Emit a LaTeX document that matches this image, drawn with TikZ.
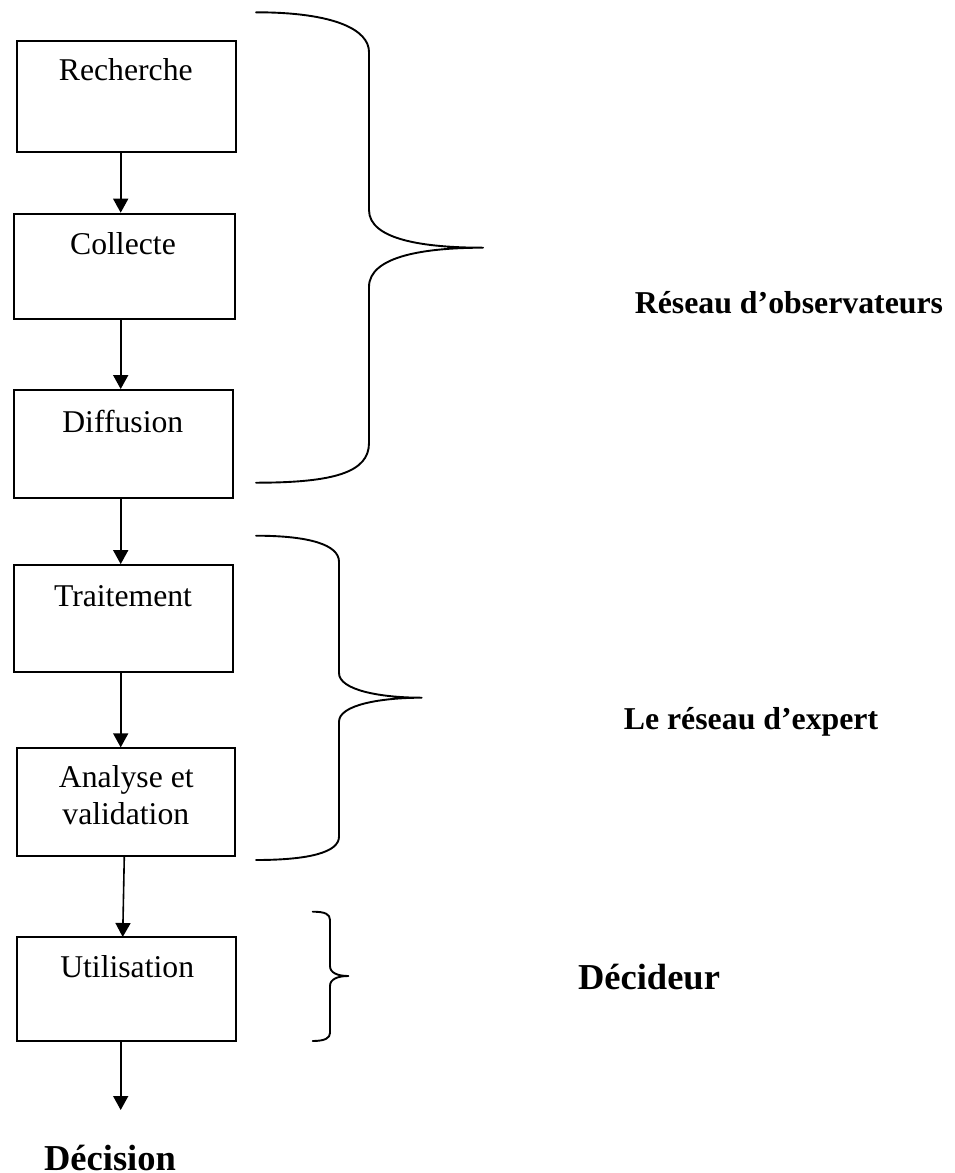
\documentclass[tikz,border=0pt]{standalone}
\usepackage{fontspec}
\setmainfont{Liberation Serif}
\usetikzlibrary{arrows.meta}
\begin{document}
\begin{tikzpicture}[x=1pt,y=-1pt,
  stagebox/.style={draw,line width=1.9pt,inner sep=0pt},
  stagetext/.style={anchor=base,inner sep=0pt,font=\fontsize{31.7}{37}\selectfont},
  grouptext/.style={anchor=base,inner sep=0pt,font=\fontsize{31.8}{37}\selectfont\bfseries},
  bigtext/.style={anchor=base,inner sep=0pt,font=\fontsize{36.5}{42}\selectfont\bfseries},
  flow/.style={line width=1.6pt,-{Triangle[width=15pt,length=14pt]}},
  brace/.style={line width=1.9pt,line cap=round,line join=round}]
\useasboundingbox (0,0) rectangle (955,1173);

% stages of the chain
\node[stagebox,minimum width=219pt,minimum height=111pt] (rech) at (126.2,96.5) {};
\node[stagetext] (rechT) at (125.8,80.7) {Recherche};
\node[stagebox,minimum width=221.3pt,minimum height=105.3pt] (coll) at (124.3,266.3) {};
\node[stagetext] (collT) at (123,254) {Collecte};
\node[stagebox,minimum width=218.7pt,minimum height=108pt] (diff) at (123.3,444) {};
\node[stagetext] (diffT) at (122.8,432) {Diffusion};
\node[stagebox,minimum width=218.7pt,minimum height=107.3pt] (trait) at (123.3,618.7) {};
\node[stagetext] (traitT) at (123,606) {Traitement};
\node[stagebox,minimum width=218.3pt,minimum height=107.4pt] (anal) at (125.8,802) {};
\node[stagetext] (analT1) at (126.3,787.3) {Analyse et};
\node[stagetext] (analT2) at (125.8,824) {validation};
\node[stagebox,minimum width=218.7pt,minimum height=104pt] (util) at (126.7,989) {};
\node[stagetext] (utilT) at (127.2,977.3) {Utilisation};

\node[bigtext] (dec) at (110,1170.7) {Décision};

% arrows between stages
\coordinate (ax) at (120.7,0);
\coordinate (decin) at (120.7,1110);
\draw[flow] (rech.south -| ax) -- (coll.north -| ax);
\draw[flow] (coll.south -| ax) -- (diff.north -| ax);
\draw[flow] (diff.south -| ax) -- (trait.north -| ax);
\draw[flow] (trait.south -| ax) -- (anal.north -| ax);
\coordinate (aout) at (124.3,855.7);
\coordinate (uin) at (122.7,937);
\draw[flow] (aout) -- (uin);
\draw[flow] (util.south -| ax) -- (decin);

% braces grouping the stages
\draw[brace] (256,12.3) .. controls (335,12.3) and (369,30) .. (369,52)
  -- (369,210) .. controls (369,240) and (425,247.7) .. (483,247.7)
  .. controls (425,247.7) and (369,256) .. (369,287)
  -- (369,443) .. controls (369,472) and (335,482.7) .. (256,482.7);
\draw[brace] (256,535.7) .. controls (310,535.7) and (339,545) .. (339,561.7)
  -- (339,673) .. controls (339,690) and (380,697.7) .. (421.7,697.7)
  .. controls (380,697.7) and (339,705) .. (339,721.7)
  -- (339,836.7) .. controls (339,852) and (310,860) .. (256,860);
\draw[brace] (312.7,911.7) .. controls (325,911.7) and (330,914) .. (330,920)
  -- (330,966) .. controls (330,973) and (338,976) .. (348.3,976)
  .. controls (338,976) and (330,979) .. (330,986)
  -- (330,1033) .. controls (330,1038) and (325,1041) .. (312.7,1041);

% group labels
\node[grouptext] (obs) at (789,313) {Réseau d’observateurs};
\node[grouptext] (exp) at (751,729.3) {Le réseau d’expert};
\node[bigtext] (decid) at (649,989) {Décideur};
\end{tikzpicture}
\end{document}
